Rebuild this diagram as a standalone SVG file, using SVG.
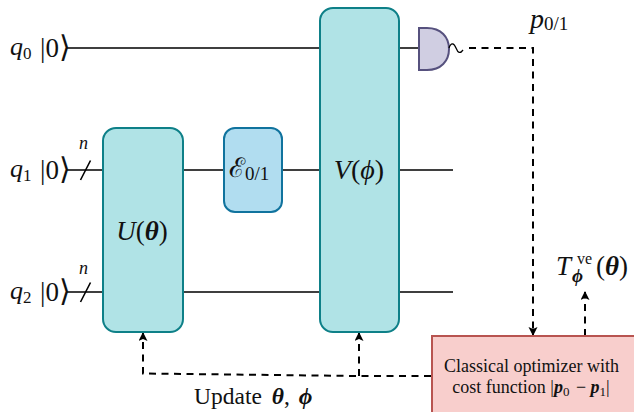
<svg xmlns="http://www.w3.org/2000/svg" width="634" height="412" viewBox="0 0 634 412">
<style>
text{font-family:"Liberation Serif","DejaVu Serif",serif;fill:#111}
.i{font-style:italic}
.b{font-weight:bold;font-style:italic}
.w{stroke:#000;stroke-width:1.6;fill:none}
.d{stroke:#000;stroke-width:2;fill:none;stroke-dasharray:7 5.500}
.g{fill:#b0e3e6;stroke:#0e8088;stroke-width:2}
.q{font-size:26px}
.s{font-size:17px}
.n{font-size:18px;font-style:italic}
.k{font-size:27px}
.r{font-family:"DejaVu Sans",sans-serif;font-weight:200;font-size:30px}
</style>
<defs>
<marker id="a" markerWidth="10" markerHeight="10" refX="8" refY="4.500" orient="auto" markerUnits="userSpaceOnUse"><path d="M0 0L9 4.500L0 9L2 4.500Z" fill="#000"/></marker>
</defs>
<g id="connectors">
<path class="w" d="M66 48H319M400 48H419"/>
<path class="w" d="M66 170H103M183 170H224M282 170H320M399 170H453"/>
<path class="w" d="M66 292H103M183 292H320M399 292H453"/>
<path class="w" stroke-width="2" d="M80.500 180L90.500 160.500M80.500 302L90.500 282.500"/>
<path class="d" d="M469 48H533V335" marker-end="url(#a)"/>
<path class="d" d="M585 336V292" marker-end="url(#a)"/>
<path class="d" d="M431 376L359 376L143 373.500V333" marker-end="url(#a)"/>
<path class="d" d="M359 376V333" marker-end="url(#a)"/>
</g>
<g id="q0"><text x="10" y="55" class="q i">q<tspan class="s" dy="4" font-style="normal">0</tspan></text><text x="40" y="57" class="k">|0<tspan class="r">⟩</tspan></text></g>
<g id="q1"><text x="10" y="177" class="q i">q<tspan class="s" dy="4" font-style="normal">1</tspan></text><text x="40" y="179" class="k">|0<tspan class="r">⟩</tspan></text><text x="79" y="149" class="n">n</text></g>
<g id="q2"><text x="10" y="299" class="q i">q<tspan class="s" dy="4" font-style="normal">2</tspan></text><text x="40" y="301" class="k">|0<tspan class="r">⟩</tspan></text><text x="79" y="274" class="n">n</text></g>
<g id="U"><rect class="g" x="103" y="128" width="80" height="204" rx="13"/><text x="142" y="240" text-anchor="middle" font-size="27"><tspan class="i">U</tspan>(<tspan class="b">θ</tspan>)</text></g>
<g id="E"><rect x="224" y="128" width="58" height="84" rx="11" fill="#b1ddf0" stroke="#10739e" stroke-width="2"/><text x="229" y="177" font-size="27" font-family="DejaVu Serif">ℰ<tspan font-size="19" dy="3" font-family="Liberation Serif">0/1</tspan></text></g>
<g id="V"><rect class="g" x="320" y="8" width="79" height="324" rx="13"/><text x="359" y="179" text-anchor="middle" font-size="28"><tspan class="i">V</tspan>(<tspan class="i">ϕ</tspan>)</text></g>
<g id="meter"><path d="M419 28H427C441 28 449 37 449 49C449 61 441 70 427 70H419Z" fill="#d0cee2" stroke="#56517e" stroke-width="2"/><path d="M449 48C451 42 454 43 456 48C458 53 460 54 463 50" fill="none" stroke="#000" stroke-width="1.300"/></g>
<g id="p"><text x="530" y="28" font-size="28" class="i">p<tspan font-size="19" dy="2" font-style="normal">0/1</tspan></text></g>
<g id="T"><text x="556" y="275" font-size="27"><tspan class="i">T</tspan></text><text x="577" y="264" font-size="16">ve</text><text x="572" y="282" font-size="19" class="b">ϕ</text><text x="596" y="275" font-size="27">(<tspan class="b">θ</tspan>)</text></g>
<g id="optimizer"><rect x="432" y="336" width="204" height="80" fill="#f8cecc" stroke="#b85450" stroke-width="2"/><text x="531.500" y="372" text-anchor="middle" font-size="18">Classical optimizer with</text><text x="531" y="393" text-anchor="middle" font-size="18">cost function |<tspan class="b">p</tspan><tspan font-size="13" dy="3">0</tspan><tspan dy="-3" dx="2"> − </tspan><tspan class="b">p</tspan><tspan font-size="13" dy="3">1</tspan><tspan dy="-3">|</tspan></text></g>
<g id="update"><text x="194" y="404" font-size="23.500">Update <tspan class="b" dx="4">θ</tspan>, <tspan class="b" dx="3">ϕ</tspan></text></g>
</svg>
